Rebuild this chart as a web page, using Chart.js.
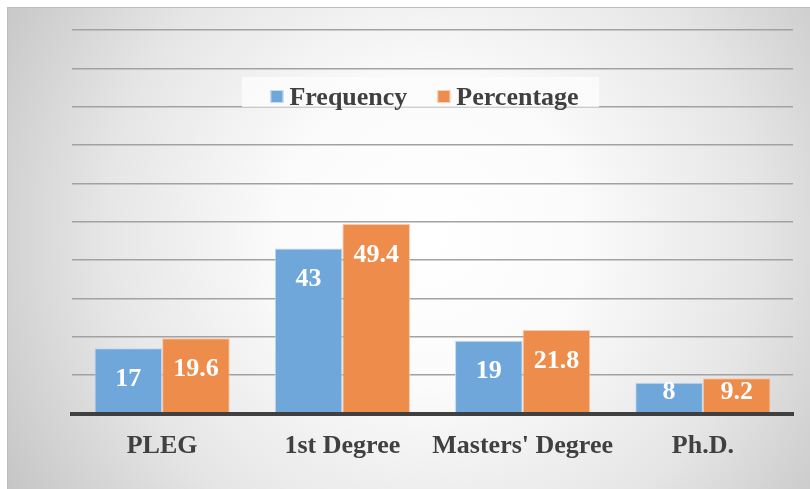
<!DOCTYPE html>
<html>
<head>
<meta charset="utf-8">
<script src="https://cdn.jsdelivr.net/npm/chart.js@4.4.1/dist/chart.umd.min.js"></script>
<style>
  html, body { margin: 0; padding: 0; background: #ffffff; }
  canvas { display: block; }
</style>
</head>
<body>
<canvas id="chart" width="810" height="489"></canvas>
<script>
// Qualification levels and their counts / shares
const categories = ["PLEG", "1st Degree", "Masters' Degree", "Ph.D."];
const frequency = [17, 43, 19, 8];
const percentage = [19.6, 49.4, 21.8, 9.2];
const seriesNames = ["Frequency", "Percentage"];
const axisMin = 0;
const axisMax = 100;
const axisStep = 10;

const FONT = "'Liberation Serif', 'Times New Roman', serif";
const BLUE = '#6FA7DB';
const ORANGE = '#EE8C4B';

// Grey-to-white radial backdrop with a thin frame
const backdrop = {
  id: 'backdrop',
  beforeDraw(chart) {
    const { ctx } = chart;
    const x0 = 7, y0 = 7, x1 = chart.width, y1 = chart.height;
    ctx.save();
    ctx.fillStyle = '#ffffff';
    ctx.fillRect(0, 0, chart.width, chart.height);
    const cx = 430, cy = 235;
    const g = ctx.createRadialGradient(cx, cy, 0, cx, cy, 500);
    g.addColorStop(0, '#ffffff');
    g.addColorStop(0.3, '#fbfbfb');
    g.addColorStop(0.65, '#e6e6e6');
    g.addColorStop(1, '#c4c4c4');
    ctx.fillStyle = g;
    ctx.fillRect(x0, y0, x1 - x0, y1 - y0);
    ctx.strokeStyle = '#bdbdbd';
    ctx.lineWidth = 1;
    ctx.strokeRect(x0 + 0.5, y0 + 0.5, x1 - x0, y1 - y0);
    ctx.restore();
  }
};

// Value labels in white inside the top of each bar
const valueLabels = {
  id: 'valueLabels',
  afterDatasetsDraw(chart) {
    const { ctx } = chart;
    ctx.save();
    ctx.font = `bold 26px ${FONT}`;
    ctx.fillStyle = '#ffffff';
    ctx.textAlign = 'center';
    ctx.textBaseline = 'middle';
    chart.data.datasets.forEach((ds, i) => {
      const meta = chart.getDatasetMeta(i);
      meta.data.forEach((bar, j) => {
        const y = Math.min(bar.y + 31, bar.base - 20);
        ctx.fillText(String(ds.data[j]), bar.x, y);
      });
    });
    ctx.restore();
  }
};

// Legend sitting inside the plot area on a pale panel
const innerLegend = {
  id: 'innerLegend',
  afterDraw(chart) {
    const { ctx, chartArea } = chart;
    const o = chart.options.plugins.innerLegend;
    ctx.save();
    ctx.font = `bold 26px ${FONT}`;
    const box = 13, gap = 6, itemGap = 30;
    const items = chart.data.datasets.map(ds => ({
      label: ds.label, color: ds.backgroundColor, w: ctx.measureText(ds.label).width
    }));
    let total = 0;
    items.forEach((it, k) => { total += box + gap + it.w + (k ? itemGap : 0); });
    const cxm = (chartArea.left + chartArea.right) / 2 + o.shiftX;
    let x = cxm - total / 2;
    // panel
    ctx.fillStyle = 'rgba(253,253,253,0.78)';
    ctx.fillRect(o.panelLeft, o.panelTop, o.panelRight - o.panelLeft, o.panelBottom - o.panelTop);
    ctx.textBaseline = 'alphabetic';
    ctx.textAlign = 'left';
    items.forEach((it, k) => {
      if (k) x += itemGap;
      ctx.fillStyle = it.color;
      ctx.fillRect(x, o.baseline - 15, box, box);
      ctx.strokeStyle = 'rgba(255,255,255,0.6)';
      ctx.lineWidth = 1;
      ctx.strokeRect(x + 0.5, o.baseline - 14.5, box - 1, box - 1);
      x += box + gap;
      ctx.fillStyle = '#404040';
      ctx.fillText(it.label, x, o.baseline);
      x += it.w;
    });
    ctx.restore();
  }
};

new Chart(document.getElementById('chart'), {
  type: 'bar',
  data: {
    labels: categories,
    datasets: [
      { label: seriesNames[0], data: frequency, backgroundColor: BLUE,
        borderColor: 'rgba(190,215,240,0.9)', borderWidth: 1,
        barPercentage: 1, categoryPercentage: 0.75 },
      { label: seriesNames[1], data: percentage, backgroundColor: ORANGE,
        borderColor: 'rgba(246,196,160,0.9)', borderWidth: 1,
        barPercentage: 1, categoryPercentage: 0.75 }
    ]
  },
  options: {
    responsive: false,
    animation: false,
    devicePixelRatio: 1,
    layout: { padding: { left: 72, right: 17, top: 30, bottom: 0 } },
    plugins: {
      legend: { display: false },
      tooltip: { enabled: false },
      innerLegend: { shiftX: -8, baseline: 105, panelLeft: 242, panelRight: 599, panelTop: 77, panelBottom: 107 }
    },
    scales: {
      x: {
        grid: { display: false, drawTicks: false },
        border: { display: true, color: '#404040', width: 4, z: 1 },
        ticks: { color: '#404040', font: { family: FONT, size: 26, weight: 'bold' }, padding: 17, maxRotation: 0, autoSkip: false },
        afterFit(scale) { scale.height = 75.5; }
      },
      y: {
        min: axisMin, max: axisMax,
        ticks: { display: false, stepSize: axisStep },
        grid: { color: '#a2a2a2', lineWidth: 1.5, drawTicks: false },
        border: { display: false },
        afterFit(scale) { scale.width = 0; }
      }
    }
  },
  plugins: [backdrop, valueLabels, innerLegend]
});
</script>
</body>
</html>
